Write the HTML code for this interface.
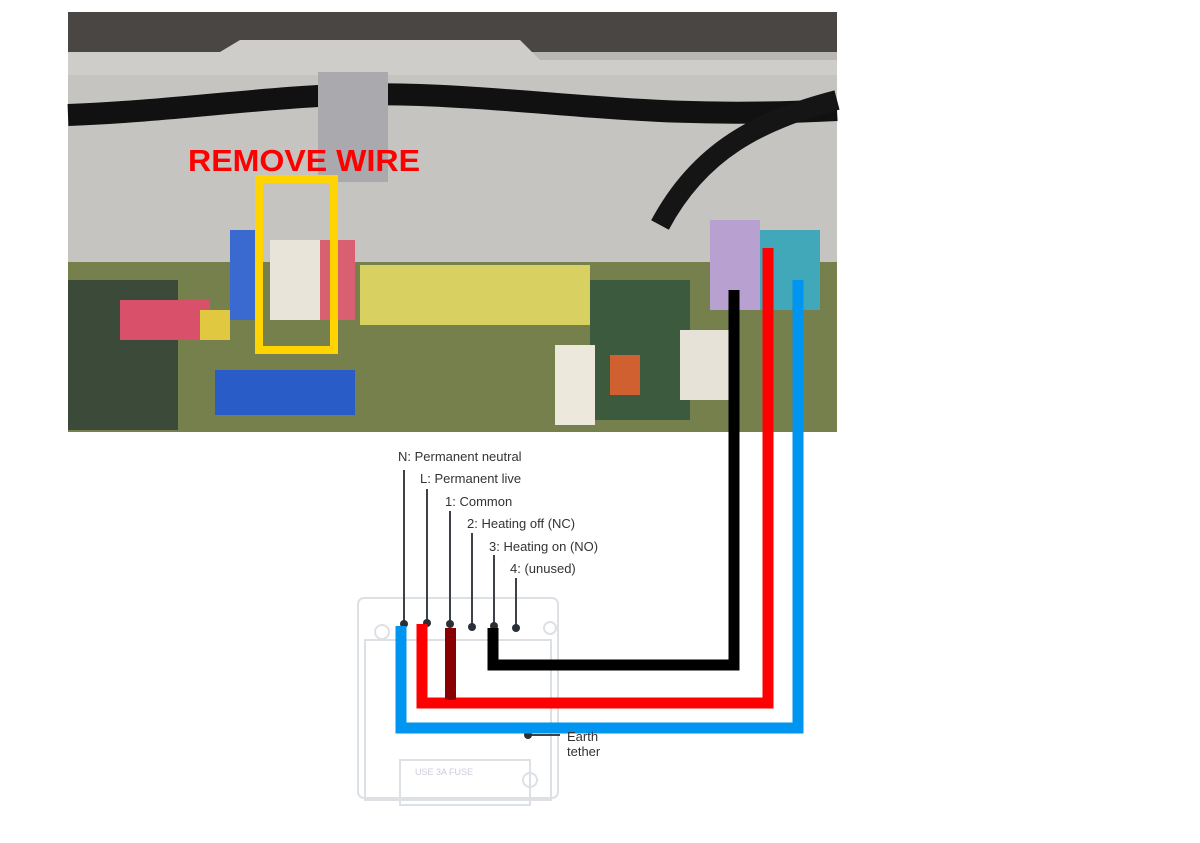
<!DOCTYPE html>
<html><head><meta charset="utf-8"><style>
body{margin:0;width:1200px;height:843px;background:#fff;position:relative;overflow:hidden;font-family:"Liberation Sans",sans-serif}
.a{position:absolute}
.t{position:absolute;font-size:13px;color:#333;white-space:nowrap}
</style></head><body>
<svg class="a" style="left:0;top:0" width="1200" height="843">
<rect x="68" y="12" width="769" height="420" fill="#b9b7b4"/>
<rect x="68" y="12" width="769" height="40" fill="#4a4644"/>
<polygon points="68,52 220,52 240,40 520,40 540,60 837,60 837,75 68,75" fill="#cfcdca"/>
<rect x="68" y="75" width="769" height="190" fill="#c6c4c1"/>
<path d="M68,115 C200,110 300,90 420,95 C560,100 650,120 837,110" stroke="#111" stroke-width="22" fill="none"/>
<path d="M837,100 C760,120 700,150 660,225" stroke="#151515" stroke-width="20" fill="none"/>
<rect x="318" y="72" width="70" height="110" fill="#a9a9ae"/>
<rect x="68" y="262" width="769" height="170" fill="#76804c"/>
<rect x="360" y="265" width="230" height="60" fill="#d8d060"/>
<rect x="590" y="280" width="100" height="140" fill="#3b5a3e"/>
<rect x="68" y="280" width="110" height="150" fill="#3c4a3a"/>
<rect x="120" y="300" width="90" height="40" fill="#d8506a"/>
<rect x="200" y="310" width="30" height="30" fill="#e0c840"/>
<rect x="230" y="230" width="30" height="90" fill="#3a6ad0"/>
<rect x="270" y="240" width="50" height="80" fill="#e8e4da"/>
<rect x="320" y="240" width="35" height="80" fill="#d86070"/>
<rect x="215" y="370" width="140" height="45" fill="#2a5cc8"/>
<rect x="555" y="345" width="40" height="80" fill="#ece8dc"/>
<rect x="610" y="355" width="30" height="40" fill="#d06030"/>
<rect x="710" y="220" width="50" height="90" fill="#b8a0d0"/>
<rect x="760" y="230" width="60" height="80" fill="#40a8b8"/>
<rect x="680" y="330" width="50" height="70" fill="#e6e2d8"/>
<text x="188" y="171" font-family="Liberation Sans" font-weight="bold" font-size="31" fill="#f00" textLength="232" lengthAdjust="spacingAndGlyphs">REMOVE WIRE</text>
<rect x="259" y="179" width="75" height="171" fill="none" stroke="#ffd400" stroke-width="8"/>
<g fill="none" stroke="#dde0e4" stroke-width="2">
<rect x="358" y="598" width="200" height="200" rx="6"/>
<rect x="365" y="640" width="186" height="160"/>
<rect x="400" y="760" width="130" height="45"/>
<circle cx="382" cy="632" r="7"/><circle cx="550" cy="628" r="6"/>
<circle cx="530" cy="780" r="7"/>
</g>
<text x="415" y="775" font-size="9" fill="#ccd" font-family="Liberation Sans">USE  3A  FUSE</text>
<g stroke="#3c4248" stroke-width="2">
<line x1="404" y1="470" x2="404" y2="625"/>
<line x1="427" y1="489" x2="427" y2="624"/>
<line x1="450" y1="511" x2="450" y2="625"/>
<line x1="472" y1="533" x2="472" y2="627"/>
<line x1="494" y1="555" x2="494" y2="625"/>
<line x1="516" y1="578" x2="516" y2="628"/>
<line x1="528" y1="735" x2="560" y2="735"/>
</g>
<g fill="#2a3036">
<circle cx="404" cy="624" r="4"/><circle cx="427" cy="623" r="4"/><circle cx="450" cy="624" r="4"/>
<circle cx="472" cy="627" r="4"/><circle cx="494" cy="626" r="4"/><circle cx="516" cy="628" r="4"/><circle cx="528" cy="735" r="4"/>
</g>
<g fill="none" stroke-width="11">
<polyline points="493,628 493,665 734,665 734,290" stroke="#000"/>
<polyline points="422,624 422,703 768,703 768,248" stroke="#f00"/>
<polyline points="401,626 401,728 798,728 798,280" stroke="#0095f0"/>
</g>
<rect x="445" y="628" width="11" height="72" fill="#8a0000"/>
</svg>
<div class="t" style="left:398px;top:449px">N: Permanent neutral</div>
<div class="t" style="left:420px;top:471px">L: Permanent live</div>
<div class="t" style="left:445px;top:494px">1: Common</div>
<div class="t" style="left:467px;top:516px">2: Heating off (NC)</div>
<div class="t" style="left:489px;top:539px">3: Heating on (NO)</div>
<div class="t" style="left:510px;top:561px">4: (unused)</div>
<div class="t" style="left:567px;top:729px;line-height:15px">Earth<br>tether</div>
</body></html>
